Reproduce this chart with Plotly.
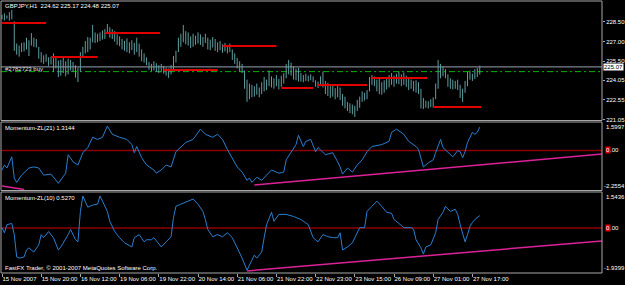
import plotly.graph_objects as go

# ---------------- data ----------------
TITLE = "GBPJPY,H1  224.62 225.17 224.48 225.07"

HIGH = [
    229.05, 229.15, 229.00, 229.25, 229.42, 228.55, 226.85, 226.70, 226.90, 226.95,
    227.30, 227.10, 227.65, 227.30, 227.20, 226.60, 226.20, 225.95, 226.05, 225.80,
    225.85, 226.10, 225.90, 225.55, 225.60, 225.75, 225.50, 225.70, 225.60, 225.45,
    225.20, 225.00, 226.20, 226.60, 227.05, 227.35, 227.30, 228.27, 227.70, 227.60,
    227.70, 227.85, 227.95, 228.35, 228.10, 227.95, 227.80, 227.55, 227.40, 227.20,
    227.05, 227.25, 226.95, 227.10, 226.90, 227.30, 226.85, 226.40, 226.10, 225.80,
    225.45, 225.30, 225.50, 225.35, 225.20, 225.30, 225.15, 225.00, 224.95, 225.20,
    225.90, 226.30, 227.30, 227.60, 228.27, 227.80, 227.70, 227.40, 227.60, 227.45,
    227.70, 227.55, 227.35, 227.60, 227.30, 227.15, 227.35, 227.20, 226.95, 227.05,
    226.80, 226.90, 226.75, 226.85, 226.40, 226.10, 225.75, 225.50, 225.30, 224.80,
    224.10, 223.80, 223.70, 223.60, 223.80, 223.50, 223.90, 224.30, 224.10, 224.80,
    224.35, 224.20, 224.45, 224.15, 224.40, 224.60, 225.30, 225.60, 225.40, 225.10,
    224.95, 225.00, 224.60, 224.45, 224.55, 224.40, 224.50, 224.35, 224.05, 223.95,
    224.35, 224.70, 224.00, 223.85, 223.60, 223.70, 223.45, 223.65, 223.50, 223.00,
    222.80, 222.40, 222.30, 222.20, 222.10, 222.55, 222.80, 223.20, 223.10, 223.30,
    224.30, 224.45, 224.35, 224.10, 224.20, 223.90, 224.05, 224.25, 224.45, 224.60,
    224.40, 224.55, 224.70, 224.50, 224.65, 224.40, 224.20, 224.10, 224.00, 224.05,
    223.90, 223.40, 222.70, 222.50, 222.45, 222.60, 222.75, 223.80, 225.60, 225.30,
    225.10, 224.90, 224.50, 224.20, 224.10, 224.00, 224.10, 223.70, 223.40, 224.00,
    224.70, 224.80, 224.55, 224.90, 225.00, 225.17]
LOW = [
    228.70, 228.62, 228.75, 228.60, 228.70, 226.30, 226.00, 225.85, 226.20, 226.25,
    226.40, 225.90, 226.70, 226.60, 226.55, 225.70, 225.40, 225.30, 225.45, 225.15,
    225.25, 224.70, 224.95, 224.30, 224.40, 224.60, 224.35, 224.50, 224.80, 224.70,
    224.25, 223.92, 224.70, 225.90, 226.10, 226.20, 226.40, 226.95, 226.90, 226.95,
    227.05, 227.15, 227.20, 227.65, 227.30, 227.20, 227.00, 226.75, 226.65, 226.40,
    226.30, 226.20, 226.10, 226.35, 226.00, 226.20, 225.85, 225.50, 225.40, 225.20,
    224.85, 224.75, 224.80, 224.70, 224.60, 224.65, 224.55, 224.40, 224.23, 224.50,
    224.75, 225.40, 226.20, 226.60, 226.95, 226.80, 226.70, 226.50, 226.60, 226.75,
    226.85, 226.75, 226.60, 226.90, 226.40, 226.35, 226.55, 226.30, 226.20, 226.35,
    226.15, 226.25, 226.10, 226.20, 225.60, 225.30, 224.95, 224.70, 224.60, 223.40,
    222.40, 222.60, 222.75, 222.80, 222.95, 222.75, 223.00, 223.20, 223.30, 223.60,
    223.50, 223.40, 223.60, 223.35, 223.55, 223.80, 224.20, 224.50, 224.40, 224.10,
    224.05, 223.95, 223.95, 223.90, 224.00, 223.95, 224.05, 223.90, 223.55, 223.46,
    223.60, 223.50, 223.00, 222.85, 222.70, 222.80, 222.60, 222.75, 222.55, 222.10,
    221.90, 221.70, 221.55, 221.45, 221.25, 221.70, 221.95, 222.40, 222.50, 222.60,
    223.20, 223.70, 223.60, 223.20, 223.00, 222.95, 223.10, 223.35, 223.50, 223.70,
    223.55, 223.80, 223.75, 223.60, 223.70, 223.55, 223.30, 223.40, 223.20, 223.10,
    223.00, 221.90, 221.86, 221.95, 221.90, 222.00, 221.95, 222.60, 223.40, 224.20,
    224.35, 224.20, 223.55, 223.40, 223.35, 223.40, 223.30, 222.70, 222.40, 223.10,
    223.60, 224.10, 224.00, 224.15, 224.30, 224.48]

# support / resistance segments (bar from, bar to, price)
SR_START = [0, 20, 42, 66, 90, 114, 129, 151, 176]
SR_END = [18, 39, 64.5, 88, 112, 127, 149, 173.5, 195.5]
SR_PRICE = [228.42, 225.83, 227.66, 224.84, 226.67, 223.46, 223.69, 224.23, 222.01]

ORDER_PRICE = 225.07
ORDER_LABEL = "#2782723 buy"
GREEN_LEVEL = 224.71
LAST_PRICE = "225.07"

MOM21_BAR = [0, 1, 2, 4, 5, 6, 8, 11, 13, 15, 17, 20, 23, 26, 27, 29, 31, 33, 35, 37,
             39, 41, 43, 45, 48, 51, 53, 54, 55, 57, 59, 62, 63, 65, 67, 69, 71, 73, 75, 78,
             81, 83, 86, 88, 90, 92, 94, 96, 98, 100, 101, 102, 104, 106, 108, 110, 113, 115, 116, 118,
             120, 121, 123, 124, 126, 128, 129, 132, 135, 137, 138, 139, 141, 143, 145, 147, 149, 151, 155, 158,
             159, 161, 164, 166, 169, 170, 172, 174, 176, 177, 179, 180, 183, 184, 186, 187, 188, 189, 190, 192,
             193, 194, 195]
MOM21_VAL = [-1.10, -0.82, -0.99, -0.36, -1.56, -1.80, -1.39, -0.99, -0.93, -0.99,
             -1.39, -1.33, -1.85, -1.28, -0.24, -0.64, -0.82, -0.13, 0.16, 0.74,
             0.62, 0.74, 1.37, 0.91, 0.74, 0.62, 0.33, -0.13, 0.22, -0.41,
             -0.82, -1.10, -1.28, -1.10, -0.82, -0.93, -0.07, 0.22, 0.45, 0.62,
             1.20, 0.91, 0.74, 0.91, 0.62, 0.05, -0.41, -0.93, -1.22, -1.68,
             -1.56, -1.80, -1.51, -1.68, -1.39, -1.10, -1.28, -1.22, -0.53, -0.07,
             0.33, 0.85, 0.22, 0.51, 0.62, -0.07, 0.16, -0.24, -0.13, -0.64,
             -0.93, -1.33, -0.99, -1.22, -0.82, -0.53, -0.07, 0.22, 0.33, 0.51,
             1.02, 1.20, 0.91, 0.51, 0.22, 0.05, -0.93, -0.70, -0.53, -0.13,
             0.62, 0.16, -0.24, -0.36, -0.01, -0.07, -0.41, -0.07, 0.45, 1.02,
             0.91, 1.02, 1.31]

MOM10_BAR = [0, 1, 2, 4, 5, 6, 7, 9, 10, 11, 13, 15, 16, 17, 19, 21, 23, 24, 27, 28,
             30, 31, 32, 33, 35, 37, 39, 40, 41, 43, 44, 46, 48, 50, 53, 54, 56, 58, 59, 61,
             62, 65, 67, 69, 70, 71, 73, 76, 78, 80, 82, 83, 84, 86, 88, 90, 92, 94, 96, 98,
             100, 102, 103, 104, 106, 107, 108, 110, 111, 113, 116, 119, 122, 125, 127, 129, 131, 133, 135, 137,
             138, 139, 141, 143, 145, 146, 148, 149, 151, 153, 155, 157, 159, 160, 162, 164, 167, 168, 169, 171,
             172, 173, 175, 177, 178, 180, 181, 183, 185, 186, 187, 188, 189, 190, 191, 192, 193, 195]
MOM10_VAL = [0.01, -0.21, 0.14, 0.19, -0.29, -1.25, -1.30, -1.25, -0.95, -0.86,
             -1.04, -0.73, -0.29, -0.42, -0.16, -0.42, -0.95, -0.82, -0.29, -0.07,
             -0.51, -0.60, 0.71, 1.37, 0.89, 0.98, 1.02, 1.37, 1.15, 0.71,
             0.28, -0.16, -0.42, -0.64, -0.82, -0.42, -0.29, -0.60, -0.51, -0.51,
             -0.42, -0.82, -0.60, -0.38, 0.45, 0.93, 1.02, 1.15, 1.24, 1.02,
             0.71, 0.36, -0.07, -0.38, -0.29, -0.38, -0.21, -0.42, -0.86, -1.30,
             -1.82, -1.39, -1.17, -1.30, -1.04, -0.42, 0.14, 0.67, 0.28, 0.58,
             0.58, 0.49, 0.36, 0.14, -0.42, -0.60, -0.29, -0.38, -0.42, -0.42,
             -0.21, -0.95, -0.82, -0.64, -0.16, 0.01, 0.01, 0.71, 0.93, 1.15,
             0.93, 0.67, 0.63, 0.36, 0.19, 0.01, 0.01, -0.07, -0.51, -0.86,
             -1.12, -0.82, -0.73, -0.21, 0.36, 0.67, 0.93, 0.71, 0.80, 0.58,
             0.14, -0.29, -0.60, -0.29, 0.06, 0.23, 0.36, 0.53]

# trend lines: (bar0, val0, bar1, val1)
TL21 = [(0, -2.00, 9, -2.20), (103, -1.95, 245, -0.20)]
TL10 = [(100, -1.85, 245, -0.56)]

MOM21_NAME = "Momentum-ZL(21) 1.3144"
MOM10_NAME = "Momentum-ZL(10) 0.5270"
MOM21_MAX, MOM21_MIN = 1.5997, -2.2554
MOM10_MAX, MOM10_MIN = 1.5436, -1.9399

PRICE_TICKS = [228.50, 227.00, 225.50, 224.05, 222.55, 221.05]
PRICE_RANGE = [220.98, 230.10]

X_TICK_BARS = [0, 16, 32, 48, 64, 80, 96, 112, 128, 144, 160, 176, 192]
X_TICK_TEXT = ["15 Nov 2007", "15 Nov 20:00", "16 Nov 12:00", "19 Nov 06:00",
               "19 Nov 22:00", "20 Nov 14:00", "21 Nov 06:00", "21 Nov 22:00",
               "22 Nov 23:00", "23 Nov 15:00", "26 Nov 09:00", "27 Nov 01:00",
               "27 Nov 17:00"]
X_RANGE = [-0.41, 244.9]
COPYRIGHT = "FastFX Trader, © 2001-2007 MetaQuotes Software Corp."

# ---------------- styles ----------------
FONT = "Liberation Sans, Arial, sans-serif"
FS = 6
BAR_C = "#5f9ea0"
FRAME_C = "#a8a8a8"
MOM_C = "#2a7fd0"
ZERO_C = "#8b0000"
TL_C = "#dd2299"
SR_C = "#e00000"

fig = go.Figure()

# price bars (high-low)
bx, by = [], []
for i, (h, l) in enumerate(zip(HIGH, LOW)):
    bx += [i, i, None]
    by += [l, h, None]
fig.add_trace(go.Scatter(x=bx, y=by, mode="lines", line=dict(color=BAR_C, width=1),
                         xaxis="x", yaxis="y", hoverinfo="skip"))

# S/R segments
sx, sy = [], []
for a, b, p in zip(SR_START, SR_END, SR_PRICE):
    sx += [a, b, None]
    sy += [p, p, None]
fig.add_trace(go.Scatter(x=sx, y=sy, mode="lines", line=dict(color=SR_C, width=2),
                         xaxis="x", yaxis="y", hoverinfo="skip"))

# momentum lines
fig.add_trace(go.Scatter(x=MOM21_BAR, y=MOM21_VAL, mode="lines", line=dict(color=MOM_C, width=1),
                         xaxis="x", yaxis="y2", hoverinfo="skip"))
fig.add_trace(go.Scatter(x=MOM10_BAR, y=MOM10_VAL, mode="lines", line=dict(color=MOM_C, width=1),
                         xaxis="x", yaxis="y3", hoverinfo="skip"))

# trend lines
for tls, ya in ((TL21, "y2"), (TL10, "y3")):
    for (b0, v0, b1, v1) in tls:
        fig.add_trace(go.Scatter(x=[b0, b1], y=[v0, v1], mode="lines",
                                 line=dict(color=TL_C, width=1.5),
                                 xaxis="x", yaxis=ya, hoverinfo="skip", cliponaxis=True))

shapes = []
# panel frames
for yd in ("y domain", "y2 domain", "y3 domain"):
    shapes.append(dict(type="rect", xref="paper", x0=0, x1=1, yref=yd, y0=0, y1=1,
                       line=dict(color=FRAME_C, width=1), layer="above"))
# zero levels
for ya in ("y2", "y3"):
    shapes.append(dict(type="line", xref="paper", x0=0, x1=1, yref=ya, y0=0, y1=0,
                       line=dict(color=ZERO_C, width=1.5), layer="below"))
# order line & green level
shapes.append(dict(type="line", xref="paper", x0=0, x1=1, yref="y", y0=ORDER_PRICE, y1=ORDER_PRICE,
                   line=dict(color="#9aa4ae", width=1), layer="below"))
shapes.append(dict(type="line", xref="paper", x0=0, x1=1, yref="y", y0=GREEN_LEVEL, y1=GREEN_LEVEL,
                   line=dict(color="#00b400", width=1, dash="6px,3px,2px,3px"), layer="below"))

ann = []
def txt(text, x, xref, y, yref, xanchor="left", yanchor="middle", color="#ffffff",
        xshift=0, yshift=0, bg=None):
    d = dict(text=text, x=x, xref=xref, y=y, yref=yref, xanchor=xanchor, yanchor=yanchor,
             showarrow=False, font=dict(family=FONT, size=FS, color=color),
             xshift=xshift, yshift=yshift, borderpad=0)
    if bg:
        d["bgcolor"] = bg
    ann.append(d)

txt(TITLE, 0, "paper", 1, "y domain", yanchor="top", xshift=3, yshift=-1)
txt(ORDER_LABEL, 0, "paper", ORDER_PRICE, "y", xshift=3, yshift=-2, color="#e0e0e0")
txt(LAST_PRICE, 1, "paper", ORDER_PRICE, "y", xshift=1, color="#000000", bg="#ffffff")
txt(MOM21_NAME, 0, "paper", 1, "y2 domain", yanchor="top", xshift=3, yshift=-2)
txt(MOM10_NAME, 0, "paper", 1, "y3 domain", yanchor="top", xshift=3, yshift=-2)
txt(COPYRIGHT, 0, "paper", 0, "y3 domain", yanchor="bottom", xshift=3, yshift=1)
txt(f"{MOM21_MAX:.4f}", 1, "paper", 1, "y2 domain", yanchor="top", xshift=3, yshift=-1)
txt(f"{MOM21_MIN:.4f}", 1, "paper", 0, "y2 domain", yanchor="bottom", xshift=1, yshift=1)
txt(f"{MOM10_MAX:.4f}", 1, "paper", 1, "y3 domain", yanchor="top", xshift=3, yshift=-1)
txt(f"{MOM10_MIN:.4f}", 1, "paper", 0, "y3 domain", yanchor="bottom", xshift=1, yshift=1)
for ya in ("y2", "y3"):
    txt("0", 1, "paper", 0, ya, xshift=3, color="#ffffff", bg="#e00000")
    txt(".00", 1, "paper", 0, ya, xshift=7)

axis_common = dict(showgrid=False, zeroline=False, automargin=False)
fig.update_layout(
    width=625, height=285,
    margin=dict(l=1, r=23, t=1, b=12),
    paper_bgcolor="#000000", plot_bgcolor="#000000",
    showlegend=False, hovermode=False,
    font=dict(family=FONT, size=FS, color="#ffffff"),
    xaxis=dict(domain=[0, 1], range=X_RANGE, anchor="y3", tickvals=X_TICK_BARS,
               ticktext=X_TICK_TEXT, ticks="outside", ticklen=3, tickcolor=FRAME_C,
               tickangle=0, ticklabelposition="outside right",
               tickfont=dict(size=FS, color="#ffffff"),
               showline=False, **axis_common),
    yaxis=dict(domain=[0.5607, 1], range=PRICE_RANGE, side="right", anchor="x",
               tickvals=PRICE_TICKS, ticktext=[f"{v:.2f}" for v in PRICE_TICKS],
               ticks="outside", ticklen=2, tickcolor=FRAME_C,
               tickfont=dict(size=FS, color="#ffffff"), **axis_common),
    yaxis2=dict(domain=[0.3033, 0.5551], range=[MOM21_MIN, MOM21_MAX], side="right", anchor="x",
                showticklabels=False, ticks="", **axis_common),
    yaxis3=dict(domain=[0, 0.2978], range=[MOM10_MIN, MOM10_MAX], side="right", anchor="x",
                showticklabels=False, ticks="", **axis_common),
    shapes=shapes, annotations=ann,
)

fig.write_html("out.html")
